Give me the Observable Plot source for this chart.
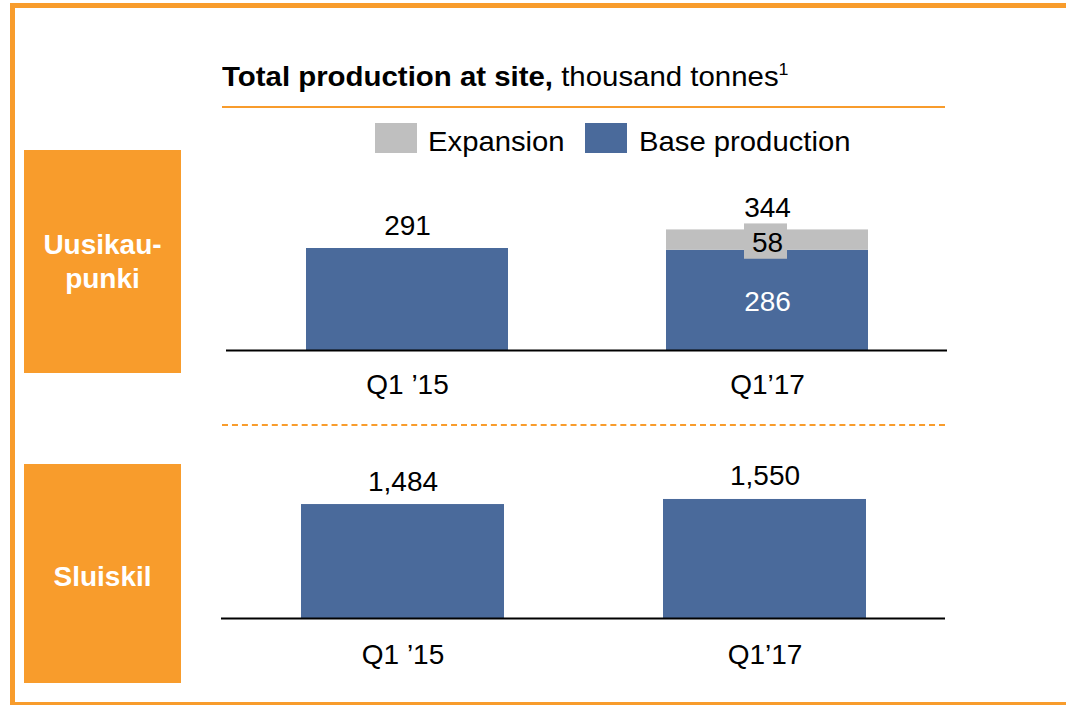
<!DOCTYPE html>
<html>
<head>
<meta charset="utf-8">
<script src="https://cdn.jsdelivr.net/npm/d3@7"></script>
<script src="https://cdn.jsdelivr.net/npm/@observablehq/plot@0.6"></script>
<style>
  html, body { margin: 0; padding: 0; background: #fff; }
  body { width: 1066px; height: 705px; position: relative; overflow: hidden; font-family: "Liberation Sans", Arial, sans-serif; }
  .abs { position: absolute; }
  .frame { left: 10px; top: 3px; width: 1100px; height: 694px; border-left: 5px solid #F89C2C; border-top: 5px solid #F89C2C; border-bottom: 5px solid #F89C2C; }
  .title { left: 222px; top: 63px; font-size: 28px; line-height: 28px; white-space: nowrap; color: #000; transform: scaleX(1.05); transform-origin: 0 0; }
  .title b { font-weight: bold; }
  .title sup { font-size: 17px; vertical-align: 11px; line-height: 0; }
  .hline { left: 222px; top: 106px; width: 723px; height: 0; border-top: 2.5px solid #F89C2C; }
  .dline { left: 222px; top: 424px; width: 723px; height: 0; border-top: 2.5px dashed #F89C2C; }
  .sw { width: 42px; height: 30px; top: 123px; }
  .lt { top: 128px; font-size: 28px; line-height: 28px; white-space: nowrap; transform: scaleX(1.045); transform-origin: 0 0; }
  .box { left: 24px; width: 157px; background: #F89C2C; color: #fff; font-weight: bold; font-size: 28px; line-height: 34px; display: flex; align-items: center; justify-content: center; text-align: center; }
  .plot { position: absolute; }
</style>
</head>
<body>
<div class="abs frame"></div>
<div id="title" class="abs title"></div>
<div class="abs hline"></div>
<div class="abs dline"></div>
<div id="legend"></div>
<div id="boxes"></div>
<div id="top" class="plot" style="left:226px; top:180px;"></div>
<div id="bottom" class="plot" style="left:221px; top:440px;"></div>
<script>
// ---- data ----
const categories = ["Q1 \u201915", "Q1\u201917"];
const sites = ["Uusikau-\npunki", "Sluiskil"];
const seriesNames = ["Expansion", "Base production"];
const seriesColors = ["#BFBFBF", "#4A6A9B"];
const uusiBase = [291, 286];
const uusiExpansion = [0, 58];
const uusiTotal = [291, 344];
const sluiskilBase = [1484, 1550];
const titleBold = "Total production at site,";
const titleRest = " thousand tonnes";
const titleNote = "1";

// ---- header ----
document.getElementById("title").innerHTML =
  `<b>${titleBold}</b>${titleRest}<sup>${titleNote}</sup>`;

const legend = document.getElementById("legend");
const swX = [375, 585], txtX = [428, 639];
seriesNames.forEach((name, i) => {
  const sw = document.createElement("div");
  sw.className = "abs sw";
  sw.style.left = swX[i] + "px";
  sw.style.background = seriesColors[i];
  legend.appendChild(sw);
  const t = document.createElement("div");
  t.className = "abs lt";
  t.style.left = txtX[i] + "px";
  t.textContent = name;
  legend.appendChild(t);
});

const boxes = document.getElementById("boxes");
const boxPos = [[150, 223, 0], [464, 219, 7]];
sites.forEach((s, i) => {
  const b = document.createElement("div");
  b.className = "abs box";
  b.style.top = boxPos[i][0] + "px";
  b.style.height = (boxPos[i][1] - boxPos[i][2]) + "px";
  b.style.paddingTop = boxPos[i][2] + "px";
  b.innerHTML = s.split("\n").join("<br>");
  boxes.appendChild(b);
});

// ---- plots ----
const fontStyle = {fontFamily: "'Liberation Sans', Arial, sans-serif", fontSize: "28px", color: "#000", background: "transparent", overflow: "visible"};
const xScale = (pad) => ({domain: categories, paddingInner: 0.44, paddingOuter: 0.22, tickSize: 0, tickPadding: pad, label: null});

// Uusikaupunki
const uusiStack = [];
categories.forEach((c, i) => {
  uusiStack.push({q: c, series: "Base production", value: uusiBase[i]});
  uusiStack.push({q: c, series: "Expansion", value: uusiExpansion[i]});
});
const uusiTotals = categories.map((c, i) => ({q: c, value: uusiTotal[i]}));
const expSeg = categories.map((c, i) => ({q: c, y1: uusiBase[i], y2: uusiBase[i] + uusiExpansion[i], exp: uusiExpansion[i]})).filter(d => d.exp > 0);
const baseInside = categories.map((c, i) => ({q: c, base: uusiBase[i], exp: uusiExpansion[i]})).filter(d => d.exp > 0);

const topPlot = Plot.plot({
  width: 721, height: 230,
  marginTop: 0, marginBottom: 60, marginLeft: 0, marginRight: 0,
  style: fontStyle,
  x: xScale(24),
  y: {domain: [0, 485], axis: null},
  color: {domain: seriesNames, range: seriesColors},
  marks: [
    Plot.barY(uusiStack, {x: "q", y: "value", fill: "series", order: ["Base production", "Expansion"]}),
    Plot.barY(expSeg, {x: "q", y1: "y1", y2: "y2", fill: seriesColors[0], insetLeft: 78, insetRight: 81, insetTop: -6, insetBottom: -9}),
    Plot.text(expSeg, {x: "q", y: d => (d.y1 + d.y2) / 2, text: d => String(d.exp), dy: 3, fill: "#000", fontSize: 28}),
    Plot.text(baseInside, {x: "q", y: d => d.base / 2, text: d => String(d.base), dy: 2, fill: "#fff", fontSize: 28}),
    Plot.text(uusiTotals, {x: "q", y: "value", text: d => d3.format(",")(d.value), dy: -22, fill: "#000", fontSize: 28}),
    Plot.ruleY([0], {stroke: "#000", strokeWidth: 2})
  ]
});
document.getElementById("top").appendChild(topPlot);

// Sluiskil
const sluData = categories.map((c, i) => ({q: c, value: sluiskilBase[i]}));
const bottomPlot = Plot.plot({
  width: 724, height: 240,
  marginTop: 0, marginBottom: 62, marginLeft: 0, marginRight: 0,
  style: fontStyle,
  x: xScale(26),
  y: {domain: [0, 2318], axis: null},
  marks: [
    Plot.barY(sluData, {x: "q", y: "value", fill: seriesColors[1]}),
    Plot.text(sluData, {x: "q", y: "value", text: d => d3.format(",")(d.value), dy: -23, fill: "#000", fontSize: 28}),
    Plot.ruleY([0], {stroke: "#000", strokeWidth: 2})
  ]
});
document.getElementById("bottom").appendChild(bottomPlot);
</script>
</body>
</html>
